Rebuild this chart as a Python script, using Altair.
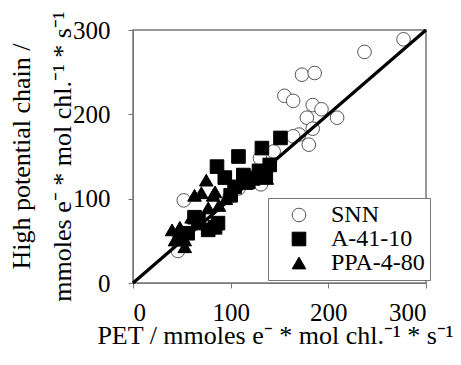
import altair as alt
import pandas as pd

# SNN (open circles)
snn_x = [277, 237, 173, 186, 155, 164, 184, 193, 209, 178, 184, 170, 164, 180, 144, 130, 131, 99, 52, 46, 120, 108]
snn_y = [289, 274, 247, 249, 222, 216, 211, 206, 196, 196, 183, 176, 174, 164, 156, 148, 117, 102, 98, 38, 126, 112]

# A-41-10 (filled squares)
a_x = [151, 132, 108, 86, 140, 94, 113, 123, 104, 87, 77, 67, 63, 56, 129, 118, 100, 84, 136, 48]
a_y = [172, 160, 150, 138, 140, 125, 128, 124, 114, 71, 63, 75, 78, 59, 133, 120, 104, 66, 127, 53]

# PPA-4-80 (filled triangles)
p_x = [75, 84, 70, 63, 82, 77, 60, 40, 48, 53, 43, 53, 137, 116, 95, 88, 126, 66]
p_y = [122, 108, 107, 104, 104, 89, 78, 63, 66, 51, 51, 43, 124, 118, 100, 92, 125, 70]

series = ["SNN", "A-41-10", "PPA-4-80"]
ticks = [0, 100, 200, 300]

rows = []
for name, xs, ys in [(series[0], snn_x, snn_y), (series[1], a_x, a_y), (series[2], p_x, p_y)]:
    for xv, yv in zip(xs, ys):
        rows.append({"PET": xv, "HPC": yv, "Series": name, "ord": len(rows)})
df = pd.DataFrame(rows)
line_df = pd.DataFrame({"PET": [0, 300], "HPC": [0, 300]})

FONT = "Liberation Serif"
GRAY = "#777777"

xscale = alt.Scale(domain=[0, 300], nice=False, zero=False)
yscale = alt.Scale(domain=[0, 300], nice=False, zero=False)

xaxis = alt.Axis(
    values=ticks, grid=False, title="PET / mmoles e⁻ * mol chl.⁻¹ * s⁻¹",
    labelFont=FONT, labelFontSize=25, labelColor="black", labelPadding=12,
    tickSize=5, tickColor=GRAY, domainColor=GRAY,
    titleFont=FONT, titleFontSize=26, titleFontWeight="normal", titleColor="black",
    titleX=142, titleY=60, titleBaseline="alphabetic", titleAlign="center",
)
yaxis = alt.Axis(
    values=ticks, grid=False,
    title=["High  potential chain /", "mmoles e⁻ * mol chl.⁻¹ * s⁻¹"],
    labelFont=FONT, labelFontSize=25, labelColor="black", labelPadding=18,
    tickSize=5, tickColor=GRAY, domainColor=GRAY,
    titleFont=FONT, titleFontSize=26, titleFontWeight="normal", titleColor="black",
    titleX=-104, titleY=126, titleAngle=270, titleBaseline="alphabetic",
    titleAlign="center", titleLineHeight=41,
)

leg = alt.Legend(title=None)
points = alt.Chart(df).mark_point(filled=True, size=185, strokeWidth=1, opacity=1).encode(
    x=alt.X("PET:Q", scale=xscale, axis=xaxis),
    y=alt.Y("HPC:Q", scale=yscale, axis=yaxis),
    shape=alt.Shape("Series:N", scale=alt.Scale(domain=series, range=["circle", "square", "triangle-up"]), legend=leg),
    fill=alt.Fill("Series:N", scale=alt.Scale(domain=series, range=["white", "black", "black"]), legend=leg),
    stroke=alt.Stroke("Series:N", scale=alt.Scale(domain=series, range=["#555555", "black", "black"]), legend=leg),
    order=alt.Order("ord:Q"),
)

diag = alt.Chart(line_df).mark_line(color="black", strokeWidth=3.2).encode(
    x=alt.X("PET:Q", scale=xscale, axis=xaxis),
    y=alt.Y("HPC:Q", scale=yscale, axis=yaxis),
)

chart = alt.layer(points, diag).properties(
    width=293, height=253,
    autosize=alt.AutoSizeParams(type="none"),
    padding={"left": 125, "top": 22, "right": 27, "bottom": 74},
).configure_view(
    stroke=GRAY, strokeWidth=1.5
).configure_axis(
    labelFont=FONT, labelFontSize=25, titleFont=FONT, titleFontSize=26
).configure_legend(
    orient="none", legendX=135, legendY=168,
    strokeColor=GRAY, fillColor="white", padding=5,
    labelFont=FONT, labelFontSize=24, labelColor="black",
    symbolSize=185, symbolOffset=14, labelOffset=20, rowPadding=0,
    symbolStrokeWidth=1,
)

chart.save("out.html", embed_options={"renderer": "svg", "actions": False})
